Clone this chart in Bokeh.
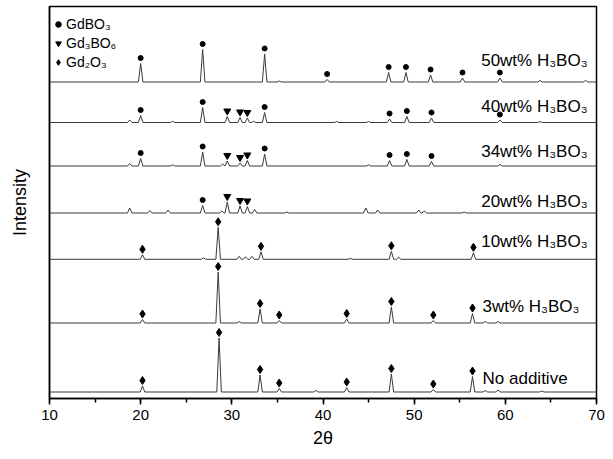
from bokeh.plotting import figure
from bokeh.models import (Range1d, SingleIntervalTicker, FixedTicker, Legend,
                          LegendItem, ColumnDataSource)
from bokeh.core.properties import value
from bokeh.embed import file_html
from bokeh.resources import INLINE

FONT = "Liberation Sans"

# ---------------- data ----------------
samples = ["No additive", "3wt% H₃BO₃", "10wt% H₃BO₃", "20wt% H₃BO₃",
           "34wt% H₃BO₃", "40wt% H₃BO₃", "50wt% H₃BO₃"]
# vertical offset of each pattern (stacked plot, arbitrary intensity units)
offsets = [6.5, 75.5, 139.2, 185.5, 232.5, 276.0, 316.5]
label_x = [57.5, 57.5, 57.35, 57.35, 57.35, 57.35, 57.35]
label_y = [20.0, 92.5, 156.7, 196.8, 246.8, 292.5, 338.0]

# phases: B = GdBO3, T = Gd3BO6, O = Gd2O3, "" = unassigned
noadd_pos = [20.2, 28.6, 33.1, 35.2, 39.2, 42.6, 47.5, 52.1, 56.4, 57.8, 59.2, 64.0]
noadd_int = [6.0, 54.0, 17.0, 3.5, 1.5, 4.5, 18.0, 2.5, 15.5, 1.5, 2.0, 1.0]
noadd_ph = ["O", "O", "O", "O", "", "O", "O", "O", "O", "", "", ""]

w3_pos = [20.2, 28.5, 30.8, 33.1, 35.2, 42.6, 47.5, 52.1, 56.4, 57.8, 59.2]
w3_int = [3.5, 51.0, 1.5, 14.0, 2.5, 4.0, 16.0, 2.5, 9.5, 1.5, 1.5]
w3_ph = ["O", "O", "", "O", "O", "O", "O", "O", "O", "", ""]

w10_pos = [20.2, 26.9, 28.5, 30.8, 31.5, 32.2, 33.2, 43.0, 47.5, 48.3, 56.5]
w10_int = [4.5, 1.5, 32.0, 3.0, 2.5, 3.0, 7.5, 1.0, 8.0, 2.0, 6.5]
w10_ph = ["O", "", "O", "", "", "", "O", "", "O", "", "O"]

w20_pos = [18.8, 21.0, 23.0, 26.8, 28.9, 29.5, 30.9, 31.7, 32.5, 36.0, 44.7, 46.0, 50.5, 51.1, 55.5]
w20_int = [5.0, 2.5, 3.0, 7.5, 2.0, 11.0, 7.0, 6.5, 3.5, 1.0, 5.0, 3.0, 3.0, 2.0, 1.0]
w20_ph = ["", "", "", "B", "", "T", "T", "T", "", "", "", "", "", "", ""]

w34_pos = [18.8, 20.0, 23.5, 26.8, 29.0, 29.5, 30.9, 31.7, 33.6, 45.0, 47.3, 49.2, 51.9, 59.4]
w34_int = [2.5, 7.5, 1.2, 14.0, 2.0, 5.0, 3.0, 5.5, 12.0, 1.2, 5.5, 6.5, 4.5, 1.5]
w34_ph = ["", "B", "", "B", "", "T", "T", "T", "B", "", "B", "B", "B", ""]

w40_pos = [18.8, 20.0, 23.5, 26.8, 29.5, 30.9, 31.7, 32.4, 33.6, 41.5, 45.0, 47.3, 49.2, 51.9, 59.4, 63.8]
w40_int = [2.5, 7.0, 1.2, 15.0, 6.0, 5.0, 4.5, 1.2, 10.0, 1.0, 1.0, 3.5, 6.0, 4.5, 2.5, 1.0]
w40_ph = ["", "B", "", "B", "T", "T", "T", "", "B", "", "", "B", "B", "B", "B", ""]

w50_pos = [20.0, 26.8, 33.6, 35.2, 40.45, 47.2, 49.1, 51.8, 55.3, 59.4, 63.8, 68.8]
w50_int = [18.5, 32.5, 28.0, 1.0, 2.5, 9.5, 9.5, 7.0, 4.0, 4.0, 1.5, 1.5]
w50_ph = ["B", "B", "B", "", "B", "B", "B", "B", "B", "B", "", ""]

x_ticks_interval = 10
phase_names = {"B": "GdBO₃", "T": "Gd₃BO₆", "O": "Gd₂O₃"}

patterns = [(noadd_pos, noadd_int, noadd_ph), (w3_pos, w3_int, w3_ph),
            (w10_pos, w10_int, w10_ph), (w20_pos, w20_int, w20_ph),
            (w34_pos, w34_int, w34_ph), (w40_pos, w40_int, w40_ph),
            (w50_pos, w50_int, w50_ph)]

# ---------------- figure ----------------
p = figure(width=606, height=454, output_backend="svg", toolbar_location=None,
           x_range=Range1d(10, 70), y_range=Range1d(0, 392),
           min_border_left=49, min_border_right=10, min_border_top=6,
           min_border_bottom=56)
p.grid.visible = False
p.outline_line_color = "black"
p.outline_line_width = 1.5
p.background_fill_color = "white"
p.border_fill_color = "white"

HALF_W = 0.25
MARK_GAP = 5.5
marks = {"B": ([], []), "T": ([], []), "O": ([], [])}

for (pos, inten, ph), base in zip(patterns, offsets):
    xs, ys = [10.0], [base]
    for x0, h in sorted(zip(pos, inten)):
        xs += [x0 - HALF_W, x0, x0 + HALF_W]
        ys += [base, base + h, base]
    xs.append(70.0)
    ys.append(base)
    p.line(xs, ys, line_color="#3a3a3a", line_width=1)
    for x0, h, f in zip(pos, inten, ph):
        if f:
            marks[f][0].append(x0)
            marks[f][1].append(base + h + MARK_GAP)

r_b = p.scatter(marks["B"][0], marks["B"][1], marker="circle", size=5,
                fill_color="black", line_color="black")
r_t = p.scatter(marks["T"][0], marks["T"][1], marker="inverted_triangle", size=7,
                fill_color="black", line_color="black")
r_o = p.scatter(marks["O"][0], marks["O"][1], marker="diamond", size=8,
                fill_color="black", line_color="black")

src = ColumnDataSource(dict(x=label_x, y=label_y, t=samples))
p.text(x="x", y="y", text="t", source=src, text_font=value(FONT),
       text_font_size="17px", text_align="left", text_baseline="middle",
       text_color="black")

legend = Legend(items=[LegendItem(label=phase_names["B"], renderers=[r_b]),
                       LegendItem(label=phase_names["T"], renderers=[r_t]),
                       LegendItem(label=phase_names["O"], renderers=[r_o])],
                location=(2, 328), border_line_color=None,
                background_fill_alpha=0, padding=0, margin=0, spacing=3,
                glyph_width=14, glyph_height=14, label_height=14,
                label_standoff=1, label_text_font=FONT,
                label_text_font_size="14px", label_text_color="black")
p.add_layout(legend)

# axes
xa = p.xaxis[0]
xa.ticker = SingleIntervalTicker(interval=x_ticks_interval, num_minor_ticks=2)
xa.axis_label = "2θ"
xa.axis_line_width = 1.5
xa.major_tick_line_width = 1.5
xa.minor_tick_line_width = 1.5
xa.major_tick_in = 0
xa.major_tick_out = 6
xa.minor_tick_in = 0
xa.minor_tick_out = 4
xa.major_label_standoff = 5
xa.axis_label_standoff = 5

ya = p.yaxis[0]
ya.ticker = FixedTicker(ticks=[])
ya.axis_label = "Intensity"
ya.axis_line_width = 1.5
ya.major_tick_out = 0
ya.major_tick_in = 0
ya.minor_tick_out = 0
ya.minor_tick_in = 0
ya.axis_label_standoff = 20

for ax in (xa, ya):
    ax.axis_label_text_font = FONT
    ax.axis_label_text_font_size = "18px"
    ax.axis_label_text_font_style = "normal"
    ax.axis_label_text_color = "black"
    ax.major_label_text_font = FONT
    ax.major_label_text_font_size = "15px"
    ax.major_label_text_color = "black"
    ax.axis_line_color = "black"
    ax.major_tick_line_color = "black"
    ax.minor_tick_line_color = "black"

open("out.html", "w").write(file_html(p, INLINE))
